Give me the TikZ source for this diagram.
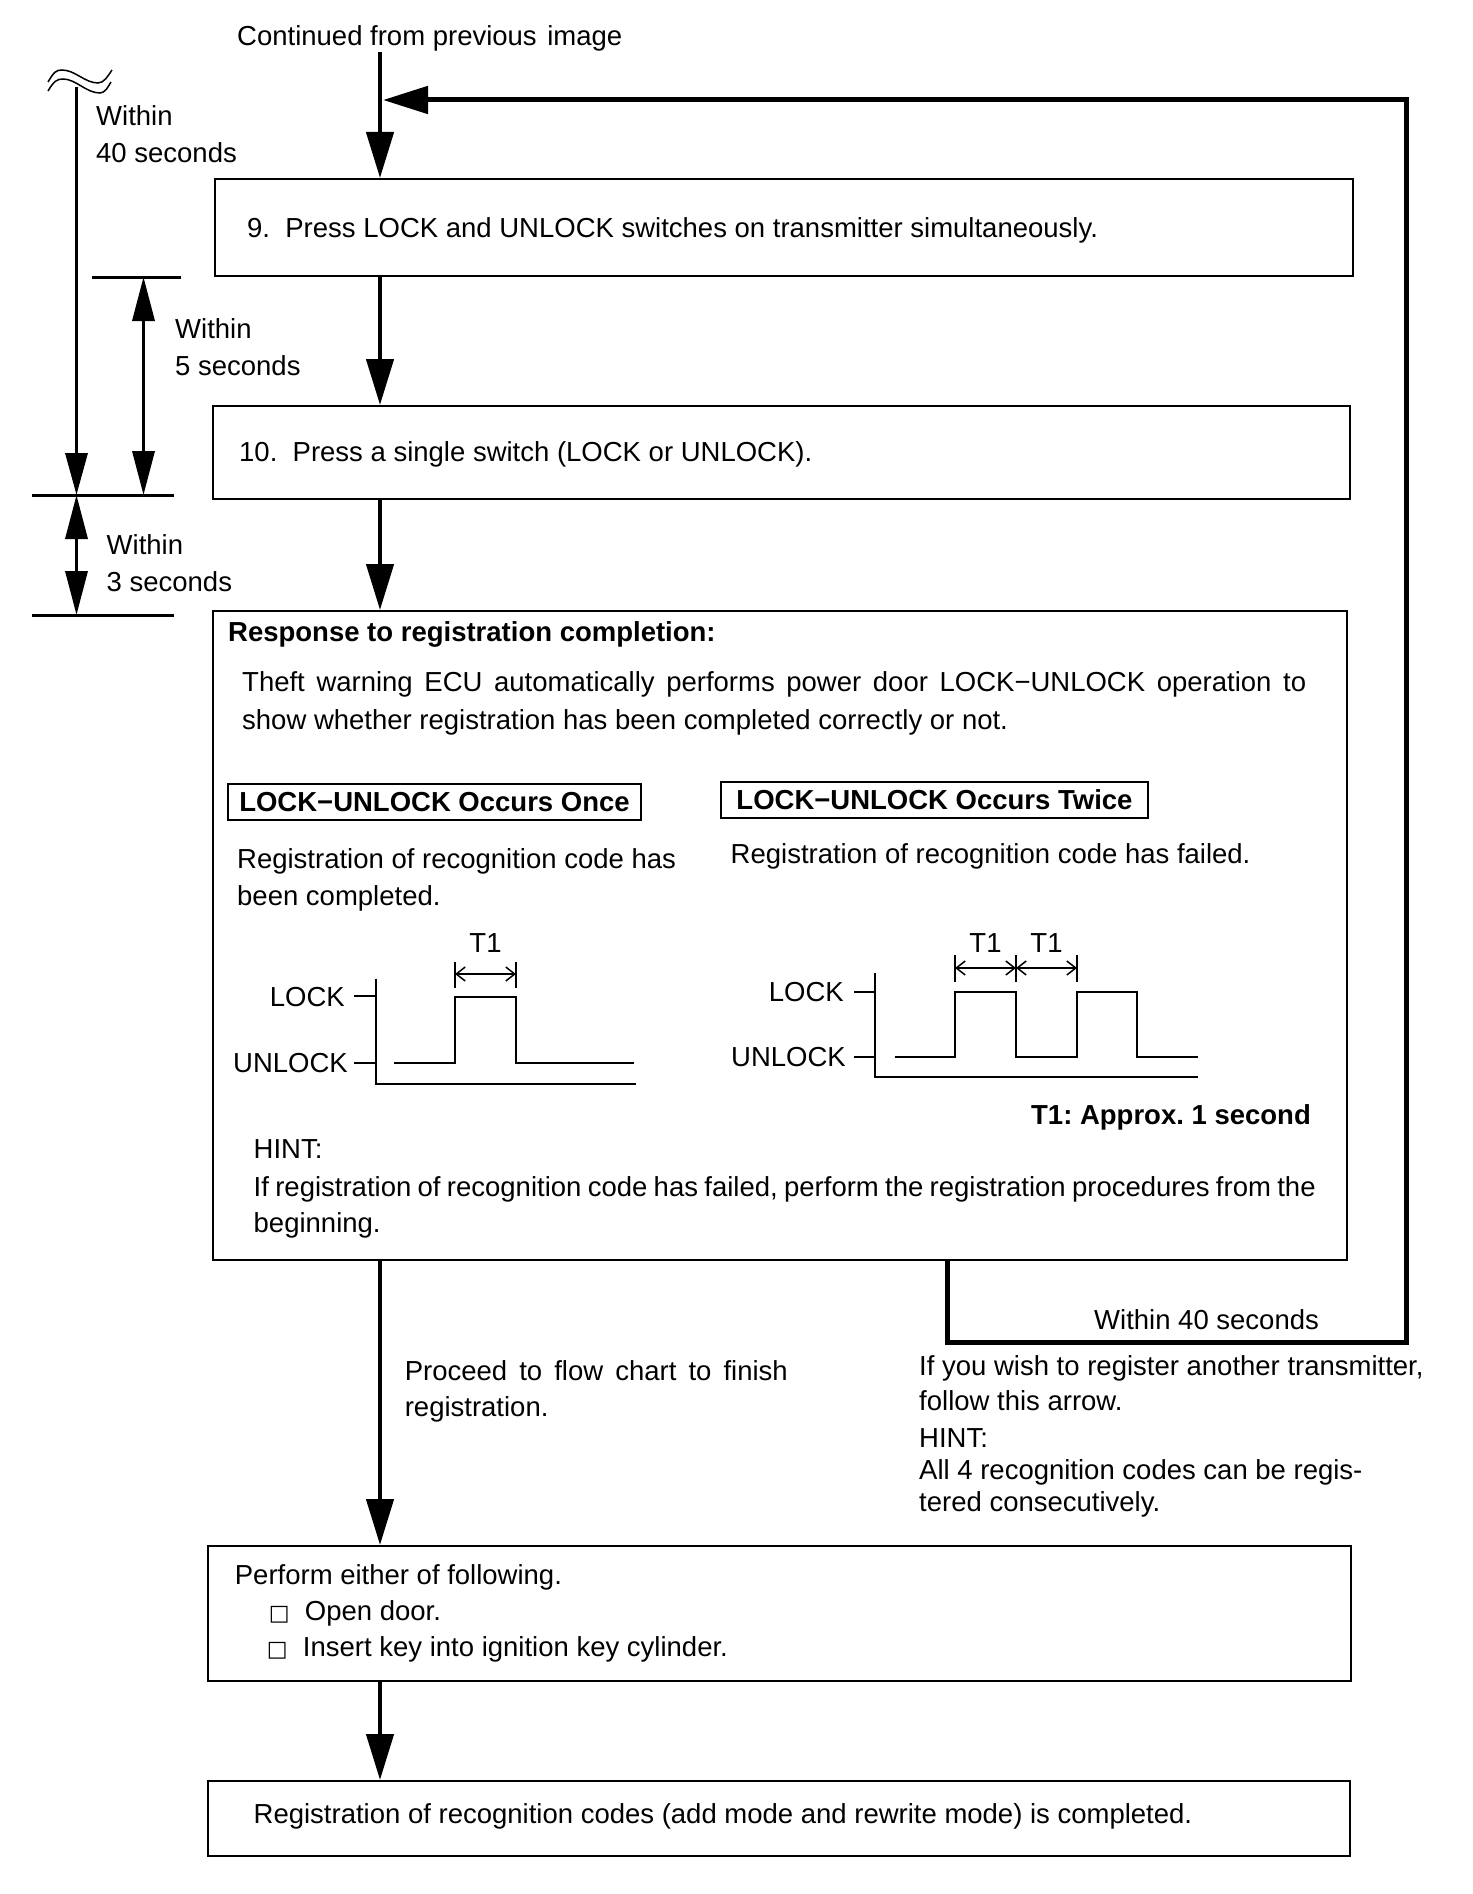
\documentclass[tikz,border=0pt]{standalone}
\usepackage{fontspec}
\setmainfont{Liberation Sans}
\newfontfamily\boxfont{DejaVu Sans}
\usetikzlibrary{arrows.meta}

\tikzset{
  flowbox/.style={draw, line width=2pt, inner sep=0pt, anchor=north west},
  tagbox/.style={draw, line width=2pt, inner sep=0pt, anchor=north west, font=\fontsize{27.5}{30}\selectfont\bfseries},
  txt/.style={inner sep=0pt, anchor=base west, align=left, font=\fontsize{27.5}{37}\selectfont},
  flow/.style={line width=4.5pt, -{Triangle[length=46pt,width=27pt]}},
  back/.style={line width=5pt, -{Triangle[length=45pt,width=27pt]}},
  dimline/.style={line width=3.5pt, {Triangle[length=44pt,width=22pt]}-{Triangle[length=44pt,width=22pt]}},
  tick/.style={line width=3pt},
  sig/.style={line width=2pt},
  span/.style={line width=1.5pt, {Straight Barb[length=9pt,width=14pt]}-{Straight Barb[length=9pt,width=14pt]}},
}

\begin{document}
\frenchspacing
\begin{tikzpicture}[x=1pt, y=-1pt]
    \useasboundingbox (0,0) rectangle (1472,1894);

    % boxes
    \node[flowbox, minimum width=1138pt, minimum height=97pt] (step9) at (214,178) {};
    \node[flowbox, minimum width=1137pt, minimum height=93pt] (step10) at (212,405) {};
    \node[flowbox, minimum width=1134pt, minimum height=649pt] (resp) at (212,610) {};
    \node[flowbox, minimum width=1143pt, minimum height=135pt] (perform) at (207,1545) {};
    \node[flowbox, minimum width=1142pt, minimum height=75pt] (done) at (207,1780) {};

    \coordinate (top) at (380,52);
    \coordinate (join) at (383,100);
    \coordinate (rt) at (1406,100);
    \coordinate (rb) at (1406,1342);
    \coordinate (brk) at (947,1342);

    \draw[flow] (top) -- (step9.north -| top);
    \draw[flow] (step9.south -| top) -- (step10.north -| top);
    \draw[flow] (step10.south -| top) -- (resp.north -| top);
    \draw[flow] (resp.south -| top) -- (perform.north -| top);
    \draw[flow] (perform.south -| top) -- (done.north -| top);
    \draw[back] (resp.south -| brk) -- (brk) -- (rb) -- (rt) -- (join);

    % time limits
    \coordinate (w40) at (76.5,87);
    \coordinate (m1) at (76.5,495);
    \coordinate (m2) at (76.5,615);
    \coordinate (f1) at (143.5,277);
    \coordinate (f2) at (143.5,495);
    \draw[line width=1.5pt] (48,82) .. controls (54,72) and (56,70) .. (62,70) .. controls (75,70) and (85,83) .. (98,83) .. controls (104,83) and (108,76) .. (112,70);
    \draw[line width=1.5pt] (48,91) .. controls (54,81) and (57,79) .. (63,79) .. controls (76,79) and (86,93) .. (100,93) .. controls (105,93) and (108,87) .. (111,82);
    \draw[line width=3.5pt, -{Triangle[length=42pt,width=22pt]}] (w40) -- (m1);
    \draw[dimline] (f1) -- (f2);
    \draw[dimline] (m1) -- (m2);
    \draw[tick] (92,277) -- (181,277);
    \draw[tick] (32,495) -- (174,495);
    \draw[tick] (32,615) -- (174,615);

    \node[txt] (cont) at (237,46) {Continued from previous\hspace{3pt} image};
    \node[txt] (lim40) at (96,163) {Within\\40 seconds};
    \node[txt] (lim5) at (175,375) {Within\\5 seconds};
    \node[txt] (lim3) at (106.5,591) {Within\\3 seconds};

    \node[txt] (t9) at (247,238) {9.\ \ Press LOCK and UNLOCK switches on transmitter simultaneously.};
    \node[txt] (t10) at (239,461) {10.\ \ Press a single switch (LOCK or UNLOCK).};

    % response box
    \node[txt, font=\fontsize{27.5}{37}\selectfont\bfseries] (resphead) at (228,641) {Response to registration completion:};
    \node[txt, text width=1064pt, align=justify, font=\fontsize{27.5}{38}\selectfont] (theft) at (242,691.5) {Theft warning ECU automatically performs power door LOCK−UNLOCK operation to\linebreak show whether registration has been completed correctly or not.};
    \node[tagbox, minimum width=413pt, minimum height=36pt] (once) at (227,783) {LOCK−UNLOCK Occurs Once};
    \node[tagbox, minimum width=427pt, minimum height=36pt] (twice) at (720,781) {LOCK−UNLOCK Occurs Twice};
    \node[txt] (oncetxt) at (237,905) {Registration of recognition code has\\been completed.};
    \node[txt] (twicetxt) at (730.5,863) {Registration of recognition code has failed.};

    % once
    \draw[sig] (375.5,978.6) -- (375.5,1083.5) -- (636,1083.5);
    \draw[sig] (353.5,996) -- (375.5,996);
    \draw[sig] (353.5,1063) -- (375.5,1063);
    \draw[sig] (394,1063) -- (455,1063) -- (455,997) -- (516,997) -- (516,1063) -- (634,1063);
    \draw[sig] (455,961.6) -- (455,988);
    \draw[sig] (516,961.6) -- (516,988);
    \draw[span] (455,974) -- (516,974);
    \node[txt, anchor=base] (once-t1) at (485.5,952.7) {T1};
    \node[txt, anchor=base east] (once-lock) at (345,1006) {LOCK};
    \node[txt, anchor=base east] (once-unlock) at (348,1072) {UNLOCK};

    % twice
    \draw[sig] (875,972.8) -- (875,1076.8) -- (1198,1076.8);
    \draw[sig] (854,991.5) -- (875,991.5);
    \draw[sig] (854,1056.7) -- (875,1056.7);
    \draw[sig] (894.6,1056.7) -- (955,1056.7) -- (955,991.5) -- (1016,991.5) -- (1016,1056.7) -- (1077,1056.7) -- (1077,991.5) -- (1137,991.5) -- (1137,1056.7) -- (1198,1056.7);
    \foreach \x in {955,1016,1077}
        \draw[sig] (\x,955) -- (\x,982);
    \draw[span] (955,968) -- (1016,968);
    \draw[span] (1016,968) -- (1077,968);
    \node[txt, anchor=base] (twice-t1a) at (985.5,952.7) {T1};
    \node[txt, anchor=base] (twice-t1b) at (1046.5,952.7) {T1};
    \node[txt, anchor=base east] (twice-lock) at (844,1001) {LOCK};
    \node[txt, anchor=base east] (twice-unlock) at (846,1066) {UNLOCK};

    \node[txt, anchor=base east, font=\fontsize{27.5}{37}\selectfont\bfseries] (t1note) at (1311,1124.5) {T1: Approx. 1 second};
    \node[txt] (hint1) at (253.5,1158) {HINT:};
    \node[txt, text width=1062pt, align=justify, font=\fontsize{27.5}{36}\selectfont] (hint1txt) at (253.5,1196) {If registration of recognition code has failed, perform the registration procedures from the\linebreak beginning.};

    % below
    \node[txt, font=\fontsize{27.5}{36}\selectfont] (proceed) at (404.6,1416.3) {\hbox to 383pt{Proceed to flow chart to finish}\\registration.};
    \node[txt] (w40b) at (1094,1329) {Within 40 seconds};
    \node[txt, font=\fontsize{27.5}{35}\selectfont] (another) at (919,1410) {If you wish to register another transmitter,\\follow this arrow.};
    \node[txt, font=\fontsize{27.5}{32}\selectfont] (hint2) at (919,1511) {HINT:\\All 4 recognition codes can be regis-\\tered consecutively.};

    \node[txt, font=\fontsize{27.5}{36}\selectfont] (performtxt) at (234.7,1656.7) {Perform either of following.\\\hspace*{34pt}{\boxfont\fontsize{22}{36}\selectfont □}\ \ Open door.\\\hspace*{32pt}{\boxfont\fontsize{22}{36}\selectfont □}\ \ Insert key into ignition key cylinder.};
    \node[txt] (donetxt) at (253.5,1823) {Registration of recognition codes (add mode and rewrite mode) is completed.};
\end{tikzpicture}
\end{document}
